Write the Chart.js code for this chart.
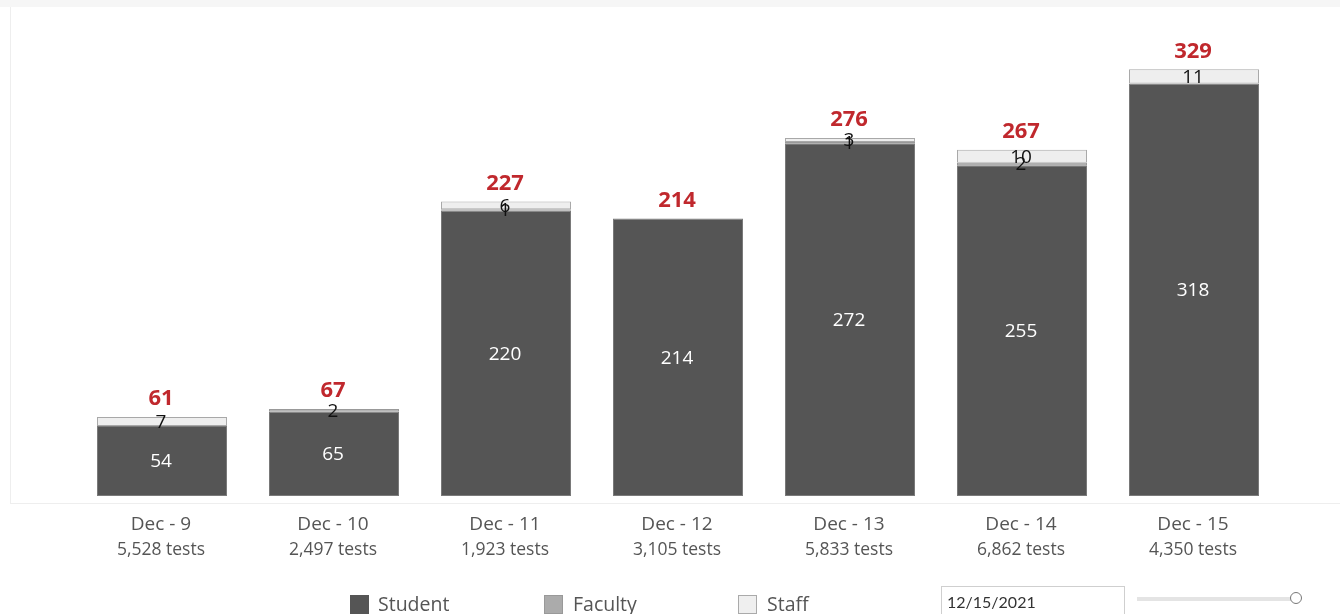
<!DOCTYPE html>
<html>
<head>
<meta charset="utf-8">
<script src="https://cdn.jsdelivr.net/npm/chart.js@4/dist/chart.umd.min.js"></script>
<style>
  html, body { margin: 0; padding: 0; background: #fff; }
  #wrap { position: relative; width: 1340px; height: 614px; overflow: hidden; font-family: "Open Sans", Lato, sans-serif; }
  #topband { position: absolute; left: 0; top: 0; width: 1340px; height: 7px; background: #f6f6f6; }
  #leftline { position: absolute; left: 10px; top: 7px; width: 1px; height: 497px; background: #eeeeee; }
  #bottomline { position: absolute; left: 10px; top: 503px; width: 1330px; height: 1px; background: #eeeeee; }
  canvas { position: absolute; left: 0; top: 0; }
  .leg { position: absolute; top: 590px; font-size: 19.5px; color: #555; }
  .sw { position: absolute; top: 595px; width: 19px; height: 19px; box-sizing: border-box; }
  #datebox { position: absolute; left: 941px; top: 586px; width: 184px; height: 30px; box-sizing: border-box; border: 1px solid #cfcfcf; font-family: Lato, sans-serif; font-size: 16px; color: #333; padding: 5px 0 0 5px; }
  #slider { position: absolute; left: 1137px; top: 597px; width: 155px; height: 4px; background: #e4e4e4; }
  #knob { position: absolute; left: 1290px; top: 592px; width: 12px; height: 12px; box-sizing: border-box; border: 1.5px solid #777; border-radius: 50%; background: #fff; }
</style>
</head>
<body>
<div id="wrap">
  <div id="topband"></div>
  <div id="leftline"></div>
  <div id="bottomline"></div>
  <canvas id="c" width="1340" height="614"></canvas>
  <div class="sw" style="left:350px;background:#555555;"></div>
  <div class="leg" style="left:378px;">Student</div>
  <div class="sw" style="left:544px;background:#ababab;border:1px solid #999;"></div>
  <div class="leg" style="left:573px;">Faculty</div>
  <div class="sw" style="left:738px;background:#efefef;border:1px solid #aaa;"></div>
  <div class="leg" style="left:767px;">Staff</div>
  <div id="datebox">12/15/2021</div>
  <div id="slider"></div>
  <div id="knob"></div>
</div>
<script>
const categories = ['Dec - 9', 'Dec - 10', 'Dec - 11', 'Dec - 12', 'Dec - 13', 'Dec - 14', 'Dec - 15'];
const testCounts = ['5,528 tests', '2,497 tests', '1,923 tests', '3,105 tests', '5,833 tests', '6,862 tests', '4,350 tests'];
const student = [54, 65, 220, 214, 272, 255, 318];
const faculty = [0, 2, 1, 0, 1, 2, 0];
const staff = [7, 0, 6, 0, 3, 10, 11];

const FONT = '"Open Sans", Lato, sans-serif';

const labelPlugin = {
  id: 'labels',
  afterDatasetsDraw(chart) {
    const ctx = chart.ctx;
    ctx.save();
    ctx.textAlign = 'center';
    ctx.textBaseline = 'middle';
    chart.data.datasets.forEach((ds, di) => {
      const meta = chart.getDatasetMeta(di);
      meta.data.forEach((bar, i) => {
        const v = ds.data[i];
        if (!v) return;
        const yc = (bar.y + bar.base) / 2;
        ctx.fillStyle = di === 0 ? '#ffffff' : '#111111';
        ctx.font = '19px ' + FONT;
        ctx.fillText(String(v), bar.x - 1, yc + 1);
      });
    });
    const xs = chart.scales.x, ys = chart.scales.y;
    ctx.fillStyle = '#c0282d';
    ctx.font = 'bold 22px ' + FONT;
    categories.forEach((c, i) => {
      const tot = student[i] + faculty[i] + staff[i];
      ctx.fillText(String(tot), xs.getPixelForValue(i) - 1, ys.getPixelForValue(tot) - 18);
    });
    ctx.fillStyle = '#555555';
    categories.forEach((c, i) => {
      const x = xs.getPixelForValue(i) - 1;
      ctx.font = '19px ' + FONT;
      ctx.fillText(c, x, 525);
      ctx.font = '17.5px ' + FONT;
      ctx.fillText(testCounts[i], x, 550);
    });
    ctx.restore();
  }
};

new Chart(document.getElementById('c'), {
  type: 'bar',
  data: {
    labels: categories,
    datasets: [
      { label: 'Student', data: student, backgroundColor: '#555555', borderColor: '#7a7a7a', borderWidth: 1, borderSkipped: false },
      { label: 'Faculty', data: faculty, backgroundColor: '#a6a6a6', borderColor: '#999999', borderWidth: 1, borderSkipped: false },
      { label: 'Staff', data: staff, backgroundColor: '#eeeeee', borderColor: '#a8a8a8', borderWidth: 1, borderSkipped: false }
    ]
  },
  options: {
    responsive: false,
    animation: false,
    layout: { padding: { left: 76, right: 60, top: 20, bottom: 118 } },
    datasets: { bar: { categoryPercentage: 1, barPercentage: 0.756 } },
    scales: {
      x: { stacked: true, display: false },
      y: { stacked: true, display: false, min: 0, max: 367 }
    },
    plugins: { legend: { display: false }, tooltip: { enabled: false } }
  },
  plugins: [labelPlugin]
});
</script>
</body>
</html>
